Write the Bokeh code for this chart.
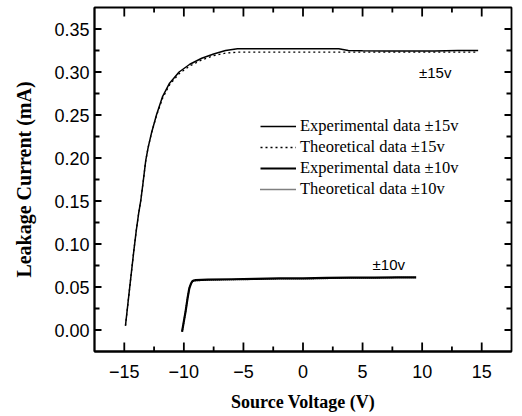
import math
from bokeh.plotting import figure
from bokeh.models import Range1d, SingleIntervalTicker, Legend, LegendItem, CustomJSTickFormatter
from bokeh.core.properties import value
from bokeh.embed import file_html
from bokeh.resources import INLINE

# ±15 V experimental data
x_exp15 = [-14.9, -14.7, -14.5, -14.2, -14.0, -13.8, -13.6, -13.4, -13.2, -13.0, -12.7, -12.3,
           -11.8, -11.2, -10.4, -9.5, -8.5, -7.5, -6.5, -5.5, -4.0, -2.0, 0.0, 2.0, 3.0, 3.8,
           5.0, 7.0, 9.0, 11.0, 13.0, 14.7]
y_exp15 = [0.005, 0.030, 0.055, 0.092, 0.115, 0.135, 0.152, 0.174, 0.197, 0.212, 0.230, 0.250,
           0.271, 0.287, 0.300, 0.309, 0.316, 0.321, 0.325, 0.327, 0.327, 0.327, 0.327, 0.327, 0.327, 0.325,
           0.3247, 0.3245, 0.3245, 0.3245, 0.325, 0.325]
# ±15 V theoretical data
x_th15 = [-14.9, -14.7, -14.5, -14.2, -14.0, -13.8, -13.6, -13.4, -13.2, -13.0, -12.7, -12.3,
          -11.8, -11.2, -10.4, -9.5, -8.5, -7.5, -6.5, -5.5, -4.0, 0.0, 5.0, 10.0, 14.7]
y_th15 = [0.005, 0.030, 0.055, 0.092, 0.115, 0.135, 0.152, 0.174, 0.197, 0.212, 0.230, 0.249,
          0.269, 0.285, 0.298, 0.307, 0.314, 0.319, 0.322, 0.323, 0.323, 0.323, 0.323, 0.323, 0.323]
# ±10 V experimental data
x_exp10 = [-10.15, -10.0, -9.85, -9.7, -9.55, -9.4, -9.3, -9.2, -9.0, -8.0, -6.0, -4.0, -2.0,
           0.0, 2.0, 4.0, 6.0, 8.0, 9.5]
y_exp10 = [-0.002, 0.010, 0.022, 0.036, 0.048, 0.054, 0.0565, 0.0575, 0.058, 0.0585, 0.059, 0.0595,
           0.060, 0.060, 0.0605, 0.061, 0.061, 0.0612, 0.0612]
# ±10 V theoretical data
x_th10 = [-10.15, -10.0, -9.85, -9.7, -9.55, -9.4, -9.3, -9.2, -9.0, -8.0, -6.0, -4.0, -2.0,
          0.0, 2.0, 4.0, 6.0, 8.0, 9.5]
y_th10 = [-0.002, 0.010, 0.022, 0.036, 0.048, 0.054, 0.056, 0.057, 0.0575, 0.058, 0.0585, 0.059,
          0.0595, 0.0595, 0.060, 0.0605, 0.0605, 0.061, 0.061]

legend_labels = ["Experimental data \u00b115v", "Theoretical data \u00b115v",
                 "Experimental data \u00b110v", "Theoretical data \u00b110v"]
annot_text = ["\u00b115v", "\u00b110v"]
annot_x = [11.1, 7.2]
annot_y = [0.299, 0.076]

# tick positions
x_major = [-15, -10, -5, 0, 5, 10, 15]
x_minor = [-12.5, -7.5, -2.5, 2.5, 7.5, 12.5]
y_major = [0.0, 0.05, 0.10, 0.15, 0.20, 0.25, 0.30, 0.35]
y_minor = [0.025, 0.075, 0.125, 0.175, 0.225, 0.275, 0.325]
x_lo, x_hi = -17.5, 17.5
y_lo, y_hi = -0.025, 0.375

p = figure(width=522, height=416, output_backend="svg", toolbar_location=None,
           x_range=Range1d(x_lo, x_hi), y_range=Range1d(y_lo, y_hi),
           min_border_left=94, min_border_right=11, min_border_top=7, min_border_bottom=65,
           background_fill_color="white", border_fill_color="white")
p.grid.visible = False
p.outline_line_color = "black"
p.outline_line_width = 1.8

p.xaxis.ticker = SingleIntervalTicker(interval=5, num_minor_ticks=2)
p.yaxis.ticker = SingleIntervalTicker(interval=0.05, num_minor_ticks=2)
p.yaxis.formatter = CustomJSTickFormatter(code="return tick.toFixed(2);")

for ax in (p.xaxis[0], p.yaxis[0]):
    ax.major_tick_in = 0
    ax.major_tick_out = 0
    ax.minor_tick_in = 0
    ax.minor_tick_out = 0
    ax.axis_line_width = 1.8
    ax.axis_line_color = "black"
    ax.major_label_text_font = "Liberation Sans"
    ax.major_label_text_font_size = "18px"
    ax.major_label_text_color = "black"
    ax.axis_label_text_font = "Liberation Serif"
    ax.axis_label_text_font_style = "bold"
    ax.axis_label_text_color = "black"

p.xaxis.axis_label = "Source Voltage (V)"
p.yaxis.axis_label = "Leakage Current (mA)"
p.xaxis.axis_label_text_font_size = "18px"
p.yaxis.axis_label_text_font_size = "20px"
p.xaxis.major_label_standoff = 13
p.yaxis.major_label_standoff = 5
p.xaxis.axis_label_standoff = 11
p.yaxis.axis_label_standoff = 16

# inward ticks on all four sides
tick_kw = dict(line_color="black", line_width=1.8, length_units="screen")
for xs, ln in ((x_major, 9), (x_minor, 5)):
    p.ray(x=xs, y=[y_lo] * len(xs), length=ln, angle=math.pi / 2, **tick_kw)
    p.ray(x=xs, y=[y_hi] * len(xs), length=ln, angle=-math.pi / 2, **tick_kw)
for ys, ln in ((y_major, 7), (y_minor, 5)):
    p.ray(x=[x_lo] * len(ys), y=ys, length=ln, angle=0, **tick_kw)
    p.ray(x=[x_hi] * len(ys), y=ys, length=ln, angle=math.pi, **tick_kw)

r1 = p.line(x_exp15, y_exp15, line_color="black", line_width=1.5)
r2 = p.line(x_th15, y_th15, line_color="black", line_width=1.3, line_dash="2 3")
r3 = p.line(x_exp10, y_exp10, line_color="black", line_width=2.2)
r4 = p.line(x_th10, y_th10, line_color="black", line_width=1.5, line_dash="1 1")

p.text(x=annot_x, y=annot_y, text=annot_text, text_font=value("Liberation Sans"),
       text_font_size="15px", text_align="center", text_baseline="middle", text_color="black")

legend = Legend(items=[LegendItem(label=lab, renderers=[r]) for lab, r in
                       zip(legend_labels, [r1, r2, r3, r4])],
                location=(166, 152))
legend.label_text_font = "Liberation Serif"
legend.label_text_font_size = "16.5px"
legend.label_text_color = "black"
legend.glyph_width = 36
legend.glyph_height = 18
legend.label_height = 18
legend.label_standoff = 4
legend.spacing = 1
legend.padding = 0
legend.margin = 0
legend.border_line_alpha = 0
legend.background_fill_alpha = 0
p.add_layout(legend)

open("out.html", "w").write(file_html(p, INLINE))
